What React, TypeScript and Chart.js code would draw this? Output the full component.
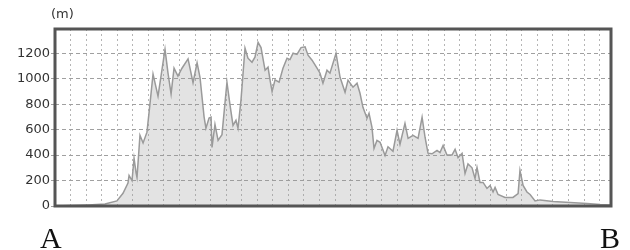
import React, { useEffect, useRef } from "react";
import { Chart, registerables } from "chart.js";

Chart.register(...registerables);

// Distance along the route (grid units, one vertical grid line per unit)
const distance: number[] = [
  0, 0.96, 2.12, 3.21, 3.98, 4.37, 4.69, 4.76, 4.95, 5.08, 5.21, 5.27, 5.46, 5.66, 5.91,
  6.11, 6.3, 6.62, 6.88, 7.07, 7.26, 7.46, 7.65, 7.9, 8.16, 8.55, 8.87, 9.13, 9.32, 9.58,
  9.7, 9.9, 10.03, 10.09, 10.28, 10.48, 10.73, 11.05, 11.25, 11.44, 11.63, 11.76, 11.95,
  12.21, 12.4, 12.66, 12.85, 13.05, 13.24, 13.5, 13.69, 13.82, 13.95, 14.14, 14.4, 14.65,
  14.91, 15.1, 15.3, 15.55, 15.81, 16.07, 16.26, 16.52, 16.84, 17.03, 17.22, 17.48, 17.67,
  18.06, 18.32, 18.64, 18.83, 19.15, 19.41, 19.6, 19.79, 20.05, 20.18, 20.37, 20.5, 20.69,
  20.89, 21.21, 21.4, 21.72, 21.98, 22.17, 22.49, 22.69, 23.01, 23.33, 23.59, 23.78, 23.97,
  24.23, 24.55, 24.74, 24.94, 25.19, 25.51, 25.71, 25.9, 26.16, 26.35, 26.54, 26.8, 26.99,
  27.12, 27.31, 27.51, 27.76, 27.96, 28.15, 28.28, 28.47, 28.92, 29.43, 29.76, 29.88, 30.08,
  30.33, 30.53, 30.85, 31.17, 32.01, 33.1, 34.19, 35.03, 35.73,
];

// Elevation (m)
const elevation: number[] = [
  0, 3, 8, 15, 40, 100, 180, 240, 200, 374, 260, 224, 555, 495, 580,
  810, 1035, 862, 1075, 1230, 1045, 880, 1082, 1020, 1082, 1155, 968, 1125, 1008, 700,
  610, 690, 697, 460, 640, 515, 560, 972, 791, 633, 673, 610, 830,
  1240, 1161, 1129, 1169, 1285, 1244, 1066, 1090, 988, 900, 990, 972, 1082,
  1161, 1150, 1200, 1190, 1244, 1250, 1184, 1145, 1082, 1043, 964, 1066, 1043,
  1200, 1011, 893, 988, 933, 964, 885, 775, 689, 728, 618, 452, 515,
  500, 397, 465, 430, 594, 485, 649, 531, 555, 531, 697, 540, 415,
  410, 437, 420, 476, 400, 400, 445, 380, 413, 256, 330, 300, 216,
  303, 185, 185, 138, 161, 110, 146, 90, 67, 67, 98, 279, 161,
  110, 90, 40, 48, 35, 28, 20, 12, 8,
];

const yTickValues: number[] = [0, 200, 400, 600, 800, 1000, 1200];
const yMax = 1390;
const xMax = 35.73;
const unitLabel = "(m)";
const startLabel = "A";
const endLabel = "B";

const framePlugin = {
  id: "frame",
  afterDraw(chart: any) {
    const { ctx, chartArea } = chart;
    ctx.save();
    ctx.strokeStyle = "#555555";
    ctx.lineWidth = 3;
    ctx.strokeRect(
      chartArea.left,
      chartArea.top,
      chartArea.right - chartArea.left,
      chartArea.bottom - chartArea.top
    );
    ctx.restore();
  },
};

export default function App() {
  const canvasRef = useRef<HTMLCanvasElement>(null);

  useEffect(() => {
    if (!canvasRef.current) return;
    const points = distance.map((d, i) => ({ x: d, y: elevation[i] }));
    const chart = new Chart(canvasRef.current, {
      type: "line",
      data: {
        datasets: [
          {
            data: points,
            borderColor: "#9a9a9a",
            borderWidth: 1.5,
            backgroundColor: "rgba(150,150,150,0.27)",
            fill: "origin",
            pointRadius: 0,
            tension: 0,
          },
        ],
      },
      options: {
        animation: false,
        responsive: false,
        maintainAspectRatio: false,
        events: [],
        layout: { padding: { left: 0, right: 19, top: 29, bottom: 44 } },
        plugins: { legend: { display: false }, tooltip: { enabled: false } },
        scales: {
          x: {
            type: "linear",
            min: 0,
            max: xMax,
            ticks: { display: false, stepSize: 1, includeBounds: false },
            grid: {
              color: "#b5b5b5",
              lineWidth: 1,
              drawTicks: false,
              borderDash: [2, 3],
            } as any,
            border: { display: false, dash: [2, 3] },
            afterFit(scale: any) {
              scale.height = 0;
            },
          },
          y: {
            min: 0,
            max: yMax,
            afterBuildTicks(scale: any) {
              scale.ticks = yTickValues.map((v) => ({ value: v }));
            },
            ticks: {
              includeBounds: false,
              color: "#333333",
              padding: 1,
              font: { family: "'DejaVu Sans', Verdana, sans-serif", size: 13 },
              callback: (v: any) => String(v),
            },
            grid: {
              color: "#a0a0a0",
              lineWidth: 1,
              tickLength: 4,
              borderDash: [4, 3],
            } as any,
            border: { display: false, dash: [4, 3] },
            afterFit(scale: any) {
              scale.width = 55;
            },
          },
        },
      },
      plugins: [framePlugin],
    });
    return () => chart.destroy();
  }, []);

  return (
    <div
      style={{
        position: "fixed",
        left: 0,
        top: 0,
        width: 630,
        height: 250,
        background: "#ffffff",
      }}
    >
      <canvas ref={canvasRef} width={630} height={250} style={{ display: "block" }} />
      <div
        style={{
          position: "absolute",
          left: 51,
          top: 6,
          fontFamily: "'DejaVu Sans', Verdana, sans-serif",
          fontSize: 13,
          color: "#333333",
          lineHeight: "16px",
        }}
      >
        {unitLabel}
      </div>
      <div
        style={{
          position: "absolute",
          left: 40,
          top: 223,
          fontFamily: "'Liberation Serif', 'Times New Roman', serif",
          fontSize: 30,
          lineHeight: "30px",
          color: "#111111",
        }}
      >
        {startLabel}
      </div>
      <div
        style={{
          position: "absolute",
          left: 600,
          top: 223,
          fontFamily: "'Liberation Serif', 'Times New Roman', serif",
          fontSize: 30,
          lineHeight: "30px",
          color: "#111111",
        }}
      >
        {endLabel}
      </div>
    </div>
  );
}
